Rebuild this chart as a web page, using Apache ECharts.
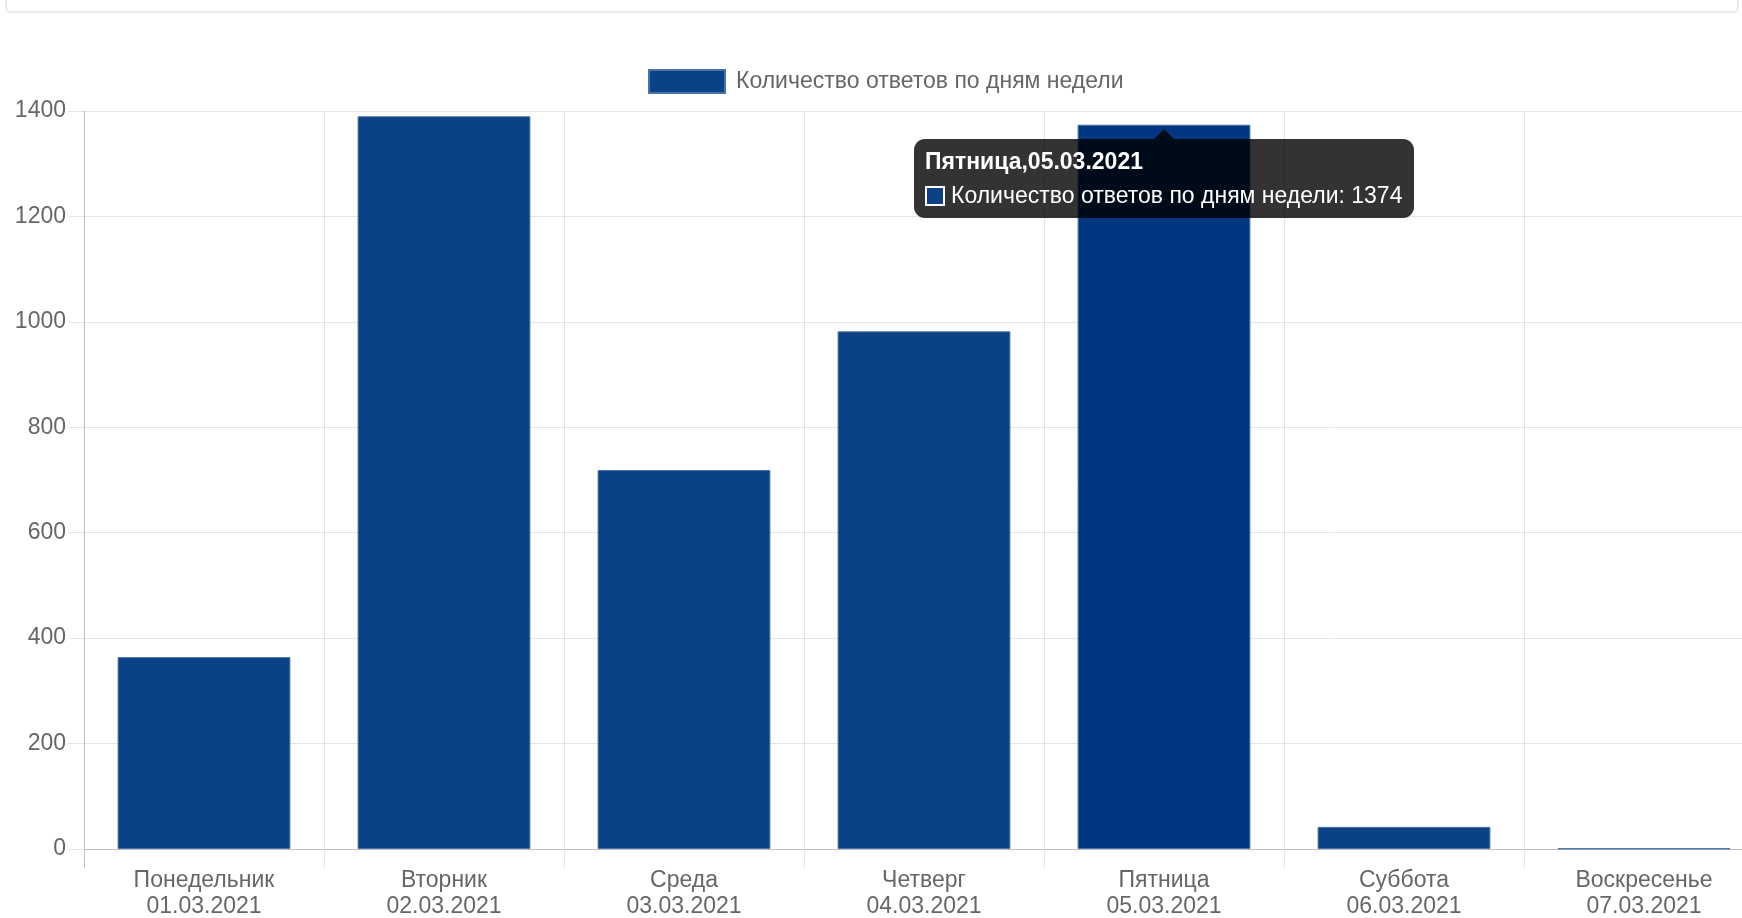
<!DOCTYPE html>
<html>
<head>
<meta charset="utf-8">
<script src="https://cdn.jsdelivr.net/npm/echarts@6/dist/echarts.min.js"></script>
<style>
html,body{margin:0;padding:0;background:#fff;overflow:hidden;}
#chart{width:1742px;height:918px;}
</style>
</head>
<body>
<div id="chart"></div>
<script>
// ---- data ----
var days = ['Понедельник','Вторник','Среда','Четверг','Пятница','Суббота','Воскресенье'];
var dates = ['01.03.2021','02.03.2021','03.03.2021','04.03.2021','05.03.2021','06.03.2021','07.03.2021'];
var values = [364, 1390, 719, 982, 1374, 42, 1];
var seriesName = 'Количество ответов по дням недели';
var yMin = 0, yMax = 1400, yStep = 200;
var hoverIndex = 4;

var FONT = "'Liberation Sans', Arial, Helvetica, sans-serif";
var BAR = '#0b4185';
var BAR_HOVER = '#003780';
var BORDER = '#4a72a8';

var categories = days.map(function(d, i){ return d + '\n' + dates[i]; });
var barData = values.map(function(v, i){
  return i === hoverIndex ? {value: v, itemStyle: {color: BAR_HOVER}} : v;
});

var chart = echarts.init(document.getElementById('chart'), null, {renderer:'canvas'});
var option = {
  animation: false,
  backgroundColor: '#fff',
  textStyle: {fontFamily: FONT},
  graphic: [{
    type: 'rect', silent: true, z: -1,
    shape: {x: 6, y: -20, width: 1732, height: 32, r: 5},
    style: {fill: '#fff', stroke: '#ebebeb', lineWidth: 2}
  }],
  legend: {
    left: 643, top: 64,
    itemWidth: 76, itemHeight: 23, itemGap: 10,
    icon: 'rect',
    selectedMode: false,
    textStyle: {color: '#666', fontSize: 23, fontFamily: FONT, padding: [0,0,0,6]},
    data: [seriesName]
  },
  tooltip: {
    trigger: 'item',
    triggerOn: 'none',
    alwaysShowContent: true,
    transitionDuration: 0,
    showDelay: 0,
    backgroundColor: 'rgba(0,0,0,0.8)',
    borderWidth: 0,
    padding: [11, 12, 11, 11],
    textStyle: {color: '#fff', fontSize: 23, fontFamily: FONT},
    extraCssText: 'box-shadow:none;border-radius:11px;overflow:visible;',
    position: function(point, params, dom, rect, size){
      var p = chart.convertToPixel({seriesIndex: 0}, [params.dataIndex, params.value]);
      return [p[0] - size.contentSize[0] / 2, p[1] + 14];
    },
    formatter: function(p){
      var i = p.dataIndex;
      return '<div style="position:absolute;left:50%;top:-10px;margin-left:-10px;width:0;height:0;' +
        'border-left:10px solid transparent;border-right:10px solid transparent;border-bottom:10px solid rgba(0,0,0,0.8);"></div>' +
        '<div style="font-weight:bold;line-height:23px;margin-bottom:11px;white-space:nowrap;">' + days[i] + ',' + dates[i] + '</div>' +
        '<div style="line-height:23px;white-space:nowrap;">' +
        '<span style="display:inline-block;box-sizing:border-box;width:20px;height:20px;vertical-align:-3px;margin-right:6px;background:' + BAR + ';border:2px solid #fff;"></span>' +
        p.seriesName + ': ' + p.value + '</div>';
    }
  },
  grid: {left: 84, width: 1680, top: 111, height: 738, containLabel: false, outerBoundsMode: 'none'},
  xAxis: [{
    type: 'category',
    data: categories,
    boundaryGap: true,
    axisLine: {show: true, lineStyle: {color: '#bfbfbf', width: 1}},
    axisTick: {show: true, length: 19, lineStyle: {color: '#e5e5e5'}},
    splitLine: {show: true, lineStyle: {color: '#e5e5e5'}},
    axisLabel: {color: '#666', fontSize: 23, lineHeight: 26, margin: 19, fontFamily: FONT, interval: 0}
  }, {
    type: 'category',
    data: categories,
    position: 'bottom',
    boundaryGap: true,
    axisLine: {show: false},
    axisLabel: {show: false},
    splitLine: {show: false},
    axisTick: {show: true, length: 19, interval: function(idx){ return idx === 0; }, lineStyle: {color: '#bfbfbf'}}
  }],
  yAxis: {
    type: 'value',
    min: yMin, max: yMax, interval: yStep,
    axisLine: {show: true, lineStyle: {color: '#bfbfbf'}},
    axisTick: {show: true, length: 16, lineStyle: {color: '#e5e5e5'}},
    splitLine: {show: true, lineStyle: {color: '#e5e5e5'}},
    axisLabel: {color: '#666', fontSize: 23, margin: 18, fontFamily: FONT,
      formatter: function(v){ return String(v); }}
  },
  series: [{
    name: seriesName,
    type: 'bar',
    data: barData,
    barCategoryGap: '28%',
    itemStyle: {color: BAR, borderColor: BORDER, borderWidth: 1},
    emphasis: {disabled: true}
  }]
};
chart.setOption(option);
chart.dispatchAction({type: 'showTip', seriesIndex: 0, dataIndex: hoverIndex});
</script>
</body>
</html>
